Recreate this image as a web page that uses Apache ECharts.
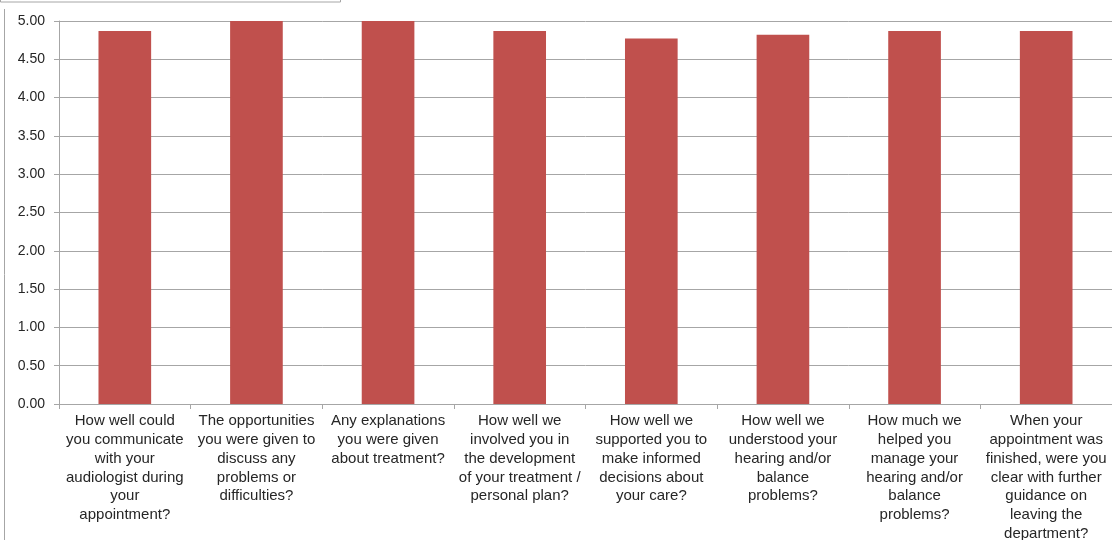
<!DOCTYPE html>
<html><head><meta charset="utf-8">
<script src="https://cdn.jsdelivr.net/npm/echarts@6/dist/echarts.min.js"></script>
<style>html,body{margin:0;padding:0;background:#fff}#c{width:1112px;height:540px}</style>
</head><body><div id="c"></div>
<script>
const categories = [
  "How well could\nyou communicate\nwith your\naudiologist during\nyour\nappointment?",
  "The opportunities\nyou were given to\ndiscuss any\nproblems or\ndifficulties?",
  "Any explanations\nyou were given\nabout treatment?",
  "How well we\ninvolved you in\nthe development\nof your treatment /\npersonal plan?",
  "How well we\nsupported you to\nmake informed\ndecisions about\nyour care?",
  "How well we\nunderstood your\nhearing and/or\nbalance\nproblems?",
  "How much we\nhelped you\nmanage your\nhearing and/or\nbalance\nproblems?",
  "When your\nappointment was\nfinished, were you\nclear with further\nguidance on\nleaving the\ndepartment?"
];
const scores = [4.87, 5.00, 5.00, 4.87, 4.77, 4.82, 4.87, 4.87];

const chart = echarts.init(document.getElementById('c'), null, {renderer:'canvas'});
chart.setOption({
  animation: false,
  backgroundColor: '#fff',
  grid: {left: 59, right: 0, top: 21, bottom: 136, containLabel: false, outerBoundsMode: 'none'},
  xAxis: {
    type: 'category', data: categories, boundaryGap: true,
    axisLine: {show: true, lineStyle: {color: '#a6a6a6', width: 1}},
    axisTick: {show: true, length: 5, alignWithLabel: false, lineStyle: {color: '#a6a6a6'}},
    axisLabel: {interval: 0, margin: 8, color: '#262626', fontFamily: 'Liberation Sans, Arial, sans-serif', fontSize: 15, lineHeight: 18.7, align: 'center'}
  },
  yAxis: {
    type: 'value', min: 0, max: 5, interval: 0.5,
    axisLine: {show: true, lineStyle: {color: '#a6a6a6', width: 1}},
    axisTick: {show: true, length: 5, inside: false, lineStyle: {color: '#a6a6a6'}},
    splitLine: {show: true, lineStyle: {color: '#a6a6a6', width: 1}},
    axisLabel: {margin: 14, color: '#262626', fontFamily: 'Liberation Sans, Arial, sans-serif', fontSize: 14, formatter: v => v.toFixed(2)}
  },
  series: [{
    type: 'bar', data: scores, barWidth: '40%',
    itemStyle: {color: '#c0504d'}
  }],
  graphic: [
    {type: 'rect', shape: {x: 0.5, y: -10, width: 340, height: 12}, style: {fill: 'none', stroke: '#a6a6a6', lineWidth: 1}},
    {type: 'line', shape: {x1: 4.5, y1: 9, x2: 4.5, y2: 540}, style: {stroke: '#a6a6a6', lineWidth: 1}}
  ]
});
</script></body></html>
